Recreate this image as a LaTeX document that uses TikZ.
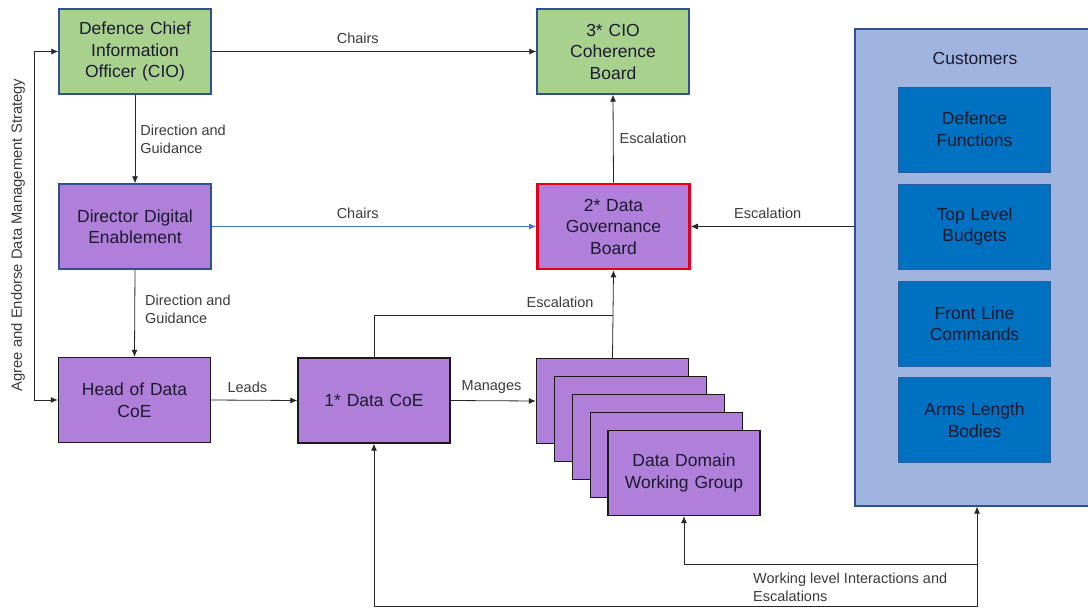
\documentclass[tikz,border=0pt]{standalone}
\usepackage{fontspec}
\setmainfont{Liberation Sans}
\usetikzlibrary{arrows.meta,positioning}
\definecolor{grn}{HTML}{A9D18E}
\definecolor{prp}{HTML}{B07FD9}
\definecolor{navy}{HTML}{2F528F}
\definecolor{redb}{HTML}{E0001B}
\definecolor{custbg}{HTML}{A0B4E0}
\definecolor{innerbg}{HTML}{0070C0}
\definecolor{innerbd}{HTML}{2E5C9A}
\definecolor{lbl}{HTML}{3A3A3A}
\definecolor{bluel}{HTML}{4472C4}
\definecolor{boxtxt}{HTML}{1C1A30}
\tikzset{
  box/.style={draw, line width=1.4pt, minimum width=152pt, minimum height=85pt, inner sep=0pt, align=center, text width=148pt, font=\fontsize{17.5}{21.5}\selectfont, text=boxtxt},
  greenbox/.style={box, fill=grn, draw=navy},
  purplebox/.style={box, fill=prp, draw=black!90},
  innerbox/.style={box, fill=innerbg, draw=innerbd, line width=1pt},
  lab/.style={font=\fontsize{14.5}{18}\selectfont, text=lbl, inner sep=0pt, align=left},
  arr/.style={-{Latex[length=7pt,width=6pt]}, line width=0.8pt, draw=black!85},
  conn/.style={line width=0.8pt, draw=black!85}
}
\begin{document}
\begin{tikzpicture}[x=1pt,y=-1pt]
\useasboundingbox (0,0) rectangle (1088,608);
\clip (0,0) rectangle (1088,608);
% customers container
\node[draw=navy, fill=custbg, line width=1.2pt, minimum width=240pt, minimum height=477pt, inner sep=0pt] (cust) at (975,267.5) {};
\node[font=\fontsize{17.5}{20}\selectfont, text=boxtxt] (custt) at (975,58) {Customers};
\node[innerbox] (df) at (974.5,129.5) {Defence\\Functions};
\node[innerbox] (tlb) at (974.5,226.5) {Top Level\\Budgets};
\node[innerbox] (flc) at (974.5,323.5) {Front Line\\Commands};
\node[innerbox] (alb) at (974.5,420) {Arms Length\\Bodies};
% main boxes
\node[greenbox] (cio) at (135,51.5) {Defence Chief\\Information\\Officer (CIO)};
\node[greenbox] (cio3) at (613,51.5) {3* CIO\\Coherence\\Board};
\node[purplebox, draw=navy] (dde) at (135,226.5) {Director Digital\\Enablement};
\node[purplebox, draw=redb, line width=2.6pt] (dgb) at (613.5,226.5) {2* Data\\Governance\\Board};
\node[purplebox] (head) at (134.5,400) {Head of Data\\CoE};
\node[purplebox] (coe) at (374,400.5) {1* Data CoE};
% stack
\node[purplebox] (wg1) at (612.5,401) {};
\node[purplebox] (wg2) at (630.5,419) {};
\node[purplebox] (wg3) at (648.5,437) {};
\node[purplebox] (wg4) at (666.5,455) {};
\node[purplebox] (wg5) at (684,473) {Data Domain\\Working Group};
% connectors
\draw[arr] (cio.east) -- node[lab, above=7pt, pos=0.45] {Chairs} (cio3.west);
\draw[arr] (cio.south) -- node[lab, right=5pt, pos=0.5] {Direction and\\Guidance} (dde.north);
\draw[arr, draw=bluel, -{Latex[length=7pt,width=6pt,fill=bluel]}] (dde.east) -- node[lab, above=7pt, pos=0.45] {Chairs} (dgb.west);
\draw[arr] (dde.south) -- node[lab, right=10pt, pos=0.45] {Direction and\\Guidance} (head.north);
\draw[arr] (dgb.north) -- node[lab, right=6pt] {Escalation} (cio3.south);
\draw[arr] (cust.west |- dgb.east) -- node[lab, above=7pt, pos=0.53] {Escalation} (dgb.east);
\draw[arr] (head.east) -- node[lab, above=7pt, pos=0.42] {Leads} (coe.west);
\draw[arr] (coe.east) -- node[lab, above=7pt, pos=0.48] {Manages} (wg1.west);
\draw[arr] (wg1.north) -- (dgb.south);
\coordinate (j) at (wg1.north |- 0,315);
\draw[conn] (coe.north) |- node[lab, above=7pt, pos=0.89] {Escalation} (j);
\draw[arr, {Latex[length=7pt,width=6pt]}-{Latex[length=7pt,width=6pt]}] (cio.west) -- ++(-24,0) |- (head.west);
\node[lab, rotate=90, font=\fontsize{14.8}{18}\selectfont] (agree) at (18,235) {Agree and Endorse Data Management Strategy};
% bottom interactions
\coordinate (b1) at (977,606.5);
\coordinate (b2) at (977,564);
\draw[arr] (b1) -- (b1 |- cust.south);
\draw[arr] (b1) -| (coe.south);
\draw[arr] (b2) -| (wg5.south);
\node[lab, anchor=north west] (wl) at (753,573) {Working level Interactions and\\Escalations};
\end{tikzpicture}
\end{document}
